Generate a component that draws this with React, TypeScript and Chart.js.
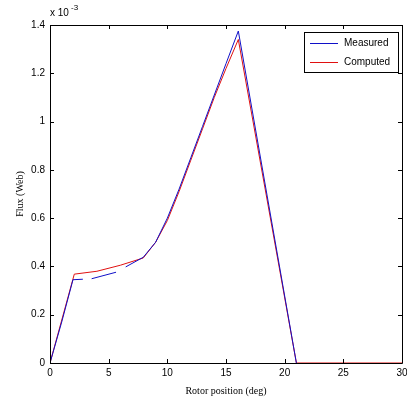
import React, { useEffect, useRef } from "react";
import { Chart, registerables } from "chart.js";

Chart.register(...registerables);

const xTicks = [0, 5, 10, 15, 20, 25, 30];
const yTickLabels = ["0", "0.2", "0.4", "0.6", "0.8", "1", "1.2", "1.4"];

const measuredX = [0, 1, 1.96, 2.8, 3.2, 3.55, 5.63, 6.0, 6.45, 7.95, 9, 10, 11, 12, 13, 14, 15, 16.05, 21];
const measuredY = [0, 0.17, 0.345, 0.347, null, 0.349, 0.376, null, 0.398, 0.438, 0.5, 0.6, 0.72, 0.85, 0.98, 1.11, 1.24, 1.375, 0];

const computedX = [0, 2.07, 4, 6, 7.95, 9, 10, 11, 12, 13, 14, 15, 16.05, 21, 30];
const computedY = [0, 0.368, 0.38, 0.405, 0.435, 0.5, 0.59, 0.71, 0.84, 0.97, 1.1, 1.22, 1.34, 0, 0];

const seriesNames = ["Measured", "Computed"];
const seriesColors = ["#1010c8", "#e01010"];

const tickFont = "'Liberation Sans Narrow', 'Liberation Sans', Arial, sans-serif";
const titleFont = "'Liberation Serif', 'Times New Roman', serif";

const framePlugin = {
  id: "frame",
  afterDraw(chart: any) {
    const ctx = chart.ctx;
    const { left, right, top, bottom } = chart.chartArea;
    const xs = chart.scales.x;
    const ys = chart.scales.y;
    ctx.save();
    ctx.strokeStyle = "#000";
    ctx.lineWidth = 1;
    ctx.beginPath();
    ctx.rect(Math.round(left) + 0.5, Math.round(top) + 0.5, Math.round(right - left), Math.round(bottom - top));
    ctx.stroke();
    const tl = 4;
    ctx.beginPath();
    xs.ticks.forEach((t: any) => {
      const px = Math.round(xs.getPixelForValue(t.value)) + 0.5;
      ctx.moveTo(px, bottom);
      ctx.lineTo(px, bottom - tl);
      ctx.moveTo(px, top);
      ctx.lineTo(px, top + tl);
    });
    ys.ticks.forEach((t: any) => {
      const py = Math.round(ys.getPixelForValue(t.value)) + 0.5;
      ctx.moveTo(left, py);
      ctx.lineTo(left + tl, py);
      ctx.moveTo(right, py);
      ctx.lineTo(right - tl, py);
    });
    ctx.stroke();

    // exponent label
    ctx.fillStyle = "#000";
    ctx.textBaseline = "alphabetic";
    ctx.textAlign = "left";
    ctx.font = `10px ${tickFont}`;
    ctx.fillText("x 10", left, top - 9);
    ctx.font = `8px ${tickFont}`;
    ctx.fillText("-3", left + 21, top - 15);

    // legend
    const lx = 304, ly = 32, lw = 94, lh = 40;
    ctx.fillStyle = "#fff";
    ctx.fillRect(lx, ly, lw, lh);
    ctx.strokeStyle = "#000";
    ctx.strokeRect(lx + 0.5, ly + 0.5, lw, lh);
    ctx.font = `10px ${tickFont}`;
    ctx.textBaseline = "middle";
    seriesNames.forEach((name, i) => {
      const yy = ly + 11 + i * 19;
      ctx.strokeStyle = seriesColors[i];
      ctx.beginPath();
      ctx.moveTo(lx + 6, yy + 0.5);
      ctx.lineTo(lx + 34, yy + 0.5);
      ctx.stroke();
      ctx.fillStyle = "#000";
      ctx.fillText(name, lx + 40, yy);
    });
    ctx.restore();
  },
};

export default function App() {
  const ref = useRef<HTMLCanvasElement>(null);
  useEffect(() => {
    if (!ref.current) return;
    const chart = new Chart(ref.current, {
      type: "line",
      data: {
        datasets: [
          {
            label: seriesNames[1],
            data: computedX.map((x, i) => ({ x, y: computedY[i] })),
            borderColor: seriesColors[1],
            borderWidth: 1,
            pointRadius: 0,
            tension: 0,
            order: 2,
          },
          {
            label: seriesNames[0],
            data: measuredX.map((x, i) => ({ x, y: measuredY[i] })) as any,
            borderColor: seriesColors[0],
            borderWidth: 1,
            pointRadius: 0,
            tension: 0,
            spanGaps: false,
            order: 1,
          },
        ],
      },
      options: {
        animation: false,
        responsive: false,
        layout: { padding: { top: 25, right: 5, left: 0, bottom: 0 } },
        plugins: { legend: { display: false }, tooltip: { enabled: false } },
        scales: {
          x: {
            type: "linear",
            min: 0,
            max: 30,
            afterBuildTicks: (s: any) => {
              s.ticks = xTicks.map((v) => ({ value: v }));
            },
            afterFit: (s: any) => {
              s.height = 41;
              s.paddingLeft = 0;
              s.paddingRight = 0;
            },
            grid: { display: false, drawTicks: false },
            border: { display: false },
            ticks: { padding: 4, color: "#000", font: { family: tickFont, size: 10 }, maxRotation: 0 },
            title: {
              display: true,
              text: "Rotor position (deg)",
              color: "#000",
              font: { family: titleFont, size: 10 },
              padding: { top: 0, bottom: 7 },
            },
          },
          y: {
            type: "linear",
            min: 0,
            max: 1.4,
            afterBuildTicks: (s: any) => {
              s.ticks = yTickLabels.map((l) => ({ value: parseFloat(l) }));
            },
            afterFit: (s: any) => {
              s.width = 50;
              s.paddingTop = 0;
              s.paddingBottom = 0;
            },
            grid: { display: false, drawTicks: false },
            border: { display: false },
            ticks: {
              padding: 5,
              color: "#000",
              font: { family: tickFont, size: 10 },
              callback: (v: any) => {
                const idx = yTickLabels.findIndex((l) => Math.abs(parseFloat(l) - v) < 1e-9);
                return idx >= 0 ? yTickLabels[idx] : "";
              },
            },
            title: {
              display: true,
              text: "Flux (Web)",
              color: "#000",
              font: { family: titleFont, size: 10 },
              padding: { top: 14, bottom: 0 },
            },
          },
        },
      },
      plugins: [framePlugin],
    });
    return () => chart.destroy();
  }, []);
  return (
    <div style={{ position: "absolute", left: 0, top: 0, width: 407, height: 404, background: "#fff" }}>
      <canvas ref={ref} width={407} height={404} style={{ width: 407, height: 404 }} />
    </div>
  );
}
